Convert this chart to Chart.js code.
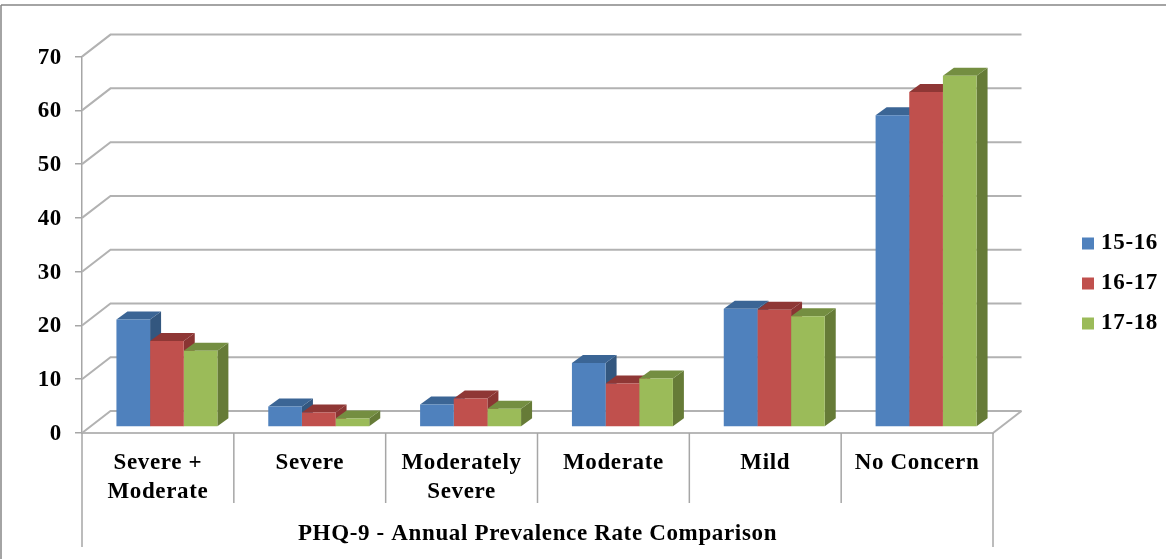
<!DOCTYPE html>
<html>
<head>
<meta charset="utf-8">
<title>PHQ-9 Annual Prevalence Rate Comparison</title>
<script src="https://cdn.jsdelivr.net/npm/chart.js@4"></script>
<style>
  html, body { margin: 0; padding: 0; background: #fff; }
  canvas { display: block; filter: blur(0.45px); }
</style>
</head>
<body>
<canvas id="myChart" width="1166" height="559"></canvas>
<script>
// values
const categories = [['Severe +', 'Moderate'], 'Severe', ['Moderately', 'Severe'], 'Moderate', 'Mild', 'No Concern'];
const seriesNames = ['15-16', '16-17', '17-18'];
const values1516 = [20, 3.8, 4.2, 11.9, 22, 58];
const values1617 = [16, 2.7, 5.3, 8.1, 21.8, 62.3];
const values1718 = [14.2, 1.6, 3.4, 9, 20.6, 65.3];
const axisTitle = 'PHQ-9 - Annual Prevalence Rate Comparison';

const frontColors = ['#4f81bd', '#c0504d', '#9bbb59'];
const topColors = ['#3b6595', '#8f3735', '#748e41'];
const sideColors = ['#33577f', '#8a3533', '#667b37'];

const gridColor = '#b2b2b2';
const textColor = '#000';
const serif = "'Liberation Serif', 'Times New Roman', serif";

// depth of the floor/back wall and of the columns, in px
const wallX = 28.5, wallY = 22;
const barShiftX = 9, barShiftY = 6;
const depthX = 11, depthY = 8;

function line(ctx, x1, y1, x2, y2, color, width) {
    ctx.beginPath();
    ctx.moveTo(x1, y1);
    ctx.lineTo(x2, y2);
    ctx.strokeStyle = color;
    ctx.lineWidth = width;
    ctx.stroke();
}

function face(ctx, pts, color) {
    ctx.beginPath();
    pts.forEach((p, i) => i ? ctx.lineTo(p[0], p[1]) : ctx.moveTo(p[0], p[1]));
    ctx.closePath();
    ctx.fillStyle = color;
    ctx.fill();
}

const box3d = {
    id: 'box3d',
    afterInit(chart) {
        // the canvas gets resized during init, which wipes this setting
        chart.ctx.letterSpacing = '0.65px';
    },
    afterLayout(chart) {
        // legend sits right of the plot, lower than the default centre
        const legend = chart.legend;
        legend.left = 1065;
        legend.right = 1158;
        legend.top = 215;
        legend.bottom = 420;
    },
    beforeDatasetsDraw(chart) {
        const ctx = chart.ctx;
        const x = chart.scales.x;
        const y = chart.scales.y;

        // outer frame of the picture
        line(ctx, 1, 5, 1166, 5, '#868686', 1.5);
        line(ctx, 1, 5, 1, 559, '#868686', 1.5);

        // gridlines bend from the front axis up to the back wall
        y.ticks.forEach(t => {
            const py = y.getPixelForValue(t.value);
            ctx.beginPath();
            ctx.moveTo(x.left, py);
            ctx.lineTo(x.left + wallX, py - wallY);
            ctx.lineTo(x.right + wallX, py - wallY);
            ctx.strokeStyle = gridColor;
            ctx.lineWidth = 2;
            ctx.stroke();
        });
        const floorY = y.getPixelForValue(0);
        line(ctx, x.right, floorY, x.right + wallX, floorY - wallY, gridColor, 2);

        // category separators under the axis
        categories.forEach((c, i) => {
            if (i === 0) return;
            const px = x.getPixelForValue(i - 0.5);
            line(ctx, px, floorY, px, 503, '#a6a6a6', 1.5);
        });
        line(ctx, x.left, floorY, x.left, 547, '#a6a6a6', 1.5);
        line(ctx, x.right, floorY, x.right, 547, '#a6a6a6', 1.5);

        // top and side faces, left to right so nearer columns cover the earlier ones
        ctx.save();
        ctx.translate(barShiftX, -barShiftY);
        categories.forEach((c, i) => {
            chart.data.datasets.forEach((ds, d) => {
                const bar = chart.getDatasetMeta(d).data[i];
                const l = bar.x - bar.width / 2;
                const r = bar.x + bar.width / 2;
                face(ctx, [[r, bar.base], [r + depthX, bar.base - depthY], [r + depthX, bar.y - depthY], [r, bar.y]], sideColors[d]);
                face(ctx, [[l, bar.y], [l + depthX, bar.y - depthY], [r + depthX, bar.y - depthY], [r, bar.y]], topColors[d]);
            });
        });
        ctx.restore();
    },
    beforeDatasetDraw(chart) {
        chart.ctx.save();
        chart.ctx.translate(barShiftX, -barShiftY);
    },
    afterDatasetDraw(chart) {
        chart.ctx.restore();
    }
};

new Chart(document.getElementById('myChart'), {
    type: 'bar',
    data: {
        labels: categories,
        datasets: [
            { label: seriesNames[0], data: values1516, backgroundColor: frontColors[0] },
            { label: seriesNames[1], data: values1617, backgroundColor: frontColors[1] },
            { label: seriesNames[2], data: values1718, backgroundColor: frontColors[2] }
        ]
    },
    plugins: [box3d],
    options: {
        responsive: false,
        animation: false,
        events: [],
        layout: { padding: { left: 0, top: 56.6, right: 173, bottom: 0 } },
        datasets: { bar: { categoryPercentage: 0.665, barPercentage: 1 } },
        scales: {
            x: {
                afterFit(scale) { scale.height = 126; },
                grid: { display: false },
                border: { display: true, color: '#b8b8b8', width: 2 },
                ticks: {
                    autoSkip: false,
                    maxRotation: 0,
                    padding: 8,
                    color: textColor,
                    font: { family: serif, size: 23, weight: 'bold', lineHeight: 1.25 }
                },
                title: {
                    display: true,
                    text: axisTitle,
                    color: textColor,
                    padding: { top: 0, bottom: 11 },
                    font: { family: serif, size: 23, weight: 'bold' }
                }
            },
            y: {
                min: 0,
                max: 70,
                afterFit(scale) { scale.width = 82; },
                grid: { drawOnChartArea: false, tickLength: 7, color: '#a6a6a6', lineWidth: 1.5 },
                border: { display: true, color: '#a6a6a6', width: 1.5 },
                ticks: {
                    stepSize: 10,
                    padding: 13,
                    labelOffset: 1,
                    color: textColor,
                    font: { family: serif, size: 23, weight: 'bold' }
                }
            }
        },
        plugins: {
            tooltip: { enabled: false },
            legend: {
                position: 'chartArea',
                align: 'start',
                labels: {
                    boxWidth: 12,
                    boxHeight: 12,
                    padding: 17,
                    textAlign: 'right',
                    color: textColor,
                    font: { family: serif, size: 23, weight: 'bold' }
                }
            }
        }
    }
});
</script>
</body>
</html>
